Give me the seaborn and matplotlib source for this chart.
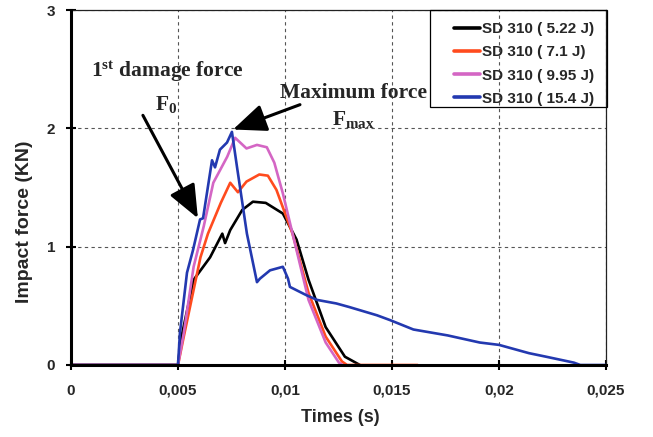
import matplotlib
matplotlib.use("Agg")
import matplotlib.pyplot as plt
from matplotlib.patches import Rectangle
import seaborn as sns
import pandas as pd

# ---- data (time in s, force in kN) ----
labels = ["SD 310 ( 5.22 J)", "SD 310 ( 7.1 J)", "SD 310 ( 9.95 J)", "SD 310 ( 15.4 J)"]
colors = ["#000000", "#ff4b1e", "#d466c4", "#2339b0"]

t_522 = [0, 0.0050, 0.00513, 0.00573, 0.0065, 0.00707, 0.0072, 0.00744, 0.0080, 0.0085,
         0.0091, 0.0099, 0.01054, 0.0111, 0.0119, 0.0128, 0.0133, 0.0135]
f_522 = [0, 0, 0.21, 0.72, 0.91, 1.11, 1.03, 1.14, 1.31, 1.38,
         1.37, 1.28, 1.06, 0.72, 0.32, 0.07, 0.02, 0]

t_71 = [0, 0.0050, 0.00527, 0.00605, 0.0064, 0.0070, 0.00744, 0.0078, 0.0082, 0.0088,
        0.0092, 0.0096, 0.01035, 0.0111, 0.0119, 0.01266, 0.0129, 0.0162]
f_71 = [0, 0, 0.24, 0.91, 1.11, 1.37, 1.54, 1.46, 1.55, 1.61,
        1.60, 1.48, 1.11, 0.61, 0.24, 0.03, 0, 0]

t_995 = [0, 0.0050, 0.00527, 0.00573, 0.0062, 0.00665, 0.0073, 0.00767, 0.0082, 0.00869,
         0.00915, 0.0095, 0.0099, 0.01054, 0.0111, 0.0119, 0.01252, 0.0127]
f_995 = [0, 0, 0.27, 0.83, 1.17, 1.54, 1.76, 1.92, 1.83, 1.86,
         1.84, 1.71, 1.45, 0.97, 0.55, 0.19, 0.02, 0]

t_154 = [0, 0.0050, 0.00509, 0.00542, 0.0057, 0.00603, 0.00617, 0.00659, 0.00673, 0.00696,
         0.00729, 0.00752, 0.00776, 0.00799, 0.00822, 0.00869, 0.00883, 0.0093, 0.0099,
         0.01014, 0.01023, 0.0110, 0.0115, 0.0124, 0.0130, 0.0143, 0.0149, 0.0160,
         0.0176, 0.0191, 0.0200, 0.0214, 0.0222, 0.0235, 0.0238, 0.0250]
f_154 = [0, 0, 0.27, 0.78, 0.97, 1.23, 1.24, 1.73, 1.67, 1.82,
         1.88, 1.97, 1.67, 1.39, 1.11, 0.70, 0.73, 0.80, 0.83,
         0.73, 0.66, 0.59, 0.55, 0.52, 0.49, 0.42, 0.38, 0.30,
         0.25, 0.19, 0.17, 0.10, 0.07, 0.02, 0, 0]

series_t = [t_522, t_71, t_995, t_154]
series_f = [f_522, f_71, f_995, f_154]

xticks = [0, 0.005, 0.01, 0.015, 0.02, 0.025]
xticklabels = ["0", "0,005", "0,01", "0,015", "0,02", "0,025"]
yticks = [0, 1, 2, 3]

rows = []
for lab, ts, fs in zip(labels, series_t, series_f):
    for t, f in zip(ts, fs):
        rows.append({"t": t, "f": f, "series": lab})
df = pd.DataFrame(rows)

sns.set_theme(style="white")
plt.rcParams["font.family"] = ["Liberation Sans", "DejaVu Sans"]
plt.rcParams["mathtext.fontset"] = "custom"
plt.rcParams["mathtext.rm"] = "Liberation Serif:bold"
plt.rcParams["mathtext.it"] = "Liberation Serif:bold:italic"
plt.rcParams["mathtext.bf"] = "Liberation Serif:bold"

fig = plt.figure(figsize=(6.53, 4.37), dpi=100)
ax = fig.add_axes([71 / 653, 1 - 365 / 437, (606 - 71) / 653, (365 - 10) / 437])

sns.lineplot(data=df, x="t", y="f", hue="series", hue_order=labels,
             palette=dict(zip(labels, colors)), sort=False, estimator=None,
             units="series", linewidth=1.9, ax=ax, legend=False, zorder=3)

ax.set_xlim(0, 0.025)
ax.set_ylim(0, 3)
ax.set_xticks(xticks)
ax.set_xticklabels(xticklabels)
ax.set_yticks(yticks)
ax.set_yticklabels([str(v) for v in yticks])

for lbl in ax.get_xticklabels() + ax.get_yticklabels():
    lbl.set_fontweight("bold")
    lbl.set_fontsize(11)
ax.tick_params(axis="both", direction="inout", length=7, width=1.5, color="black",
               bottom=True, left=True)
ax.tick_params(axis="x", pad=10)
ax.tick_params(axis="y", pad=8)

ax.grid(True, linestyle=(0, (3, 3)), color="#555555", linewidth=0.8)
ax.set_axisbelow(True)

for side in ["left", "bottom"]:
    ax.spines[side].set_linewidth(2.2)
    ax.spines[side].set_color("black")
    ax.spines[side].set_zorder(5)
for side in ["top", "right"]:
    ax.spines[side].set_linewidth(0.9)
    ax.spines[side].set_color("#222222")

ax.set_xlabel("Times (s)", fontsize=13, fontweight="bold")
ax.set_ylabel("Impact force (KN)", fontsize=14, fontweight="bold")
ax.xaxis.set_label_coords((340 - 71) / 535, -(409 - 365) / 355)
ax.yaxis.set_label_coords(-(71 - 33) / 535, (365 - 222) / 355)

handles = [plt.Line2D([], [], color=c, lw=2.6) for c in colors]
leg = ax.legend(handles, labels, loc="upper right", bbox_to_anchor=(1.0, 1.0),
                borderaxespad=0.0, frameon=False, handlelength=1.7,
                handletextpad=0.1, labelspacing=0.6, borderpad=0.8,
                prop={"weight": "bold", "size": 11})
ax.add_patch(Rectangle(((430 - 71) / 535, (365 - 107) / 355), (607 - 430) / 535,
                       (107 - 10) / 355, transform=ax.transAxes, fill=False,
                       edgecolor="black", linewidth=0.9, zorder=6, clip_on=False))

# annotations
tfs = 15.5
ax.text(0.00449, 2.434, r"1$^{\mathrm{st}}$" + " damage force", ha="center", va="baseline",
        fontsize=tfs, fontweight="bold", family="Liberation Serif")
ax.text(0.00444, 2.155, r"F$_{\mathrm{0}}$", ha="center", va="baseline",
        fontsize=tfs, fontweight="bold", family="Liberation Serif")
ax.text(0.01318, 2.257, "Maximum force", ha="center", va="baseline",
        fontsize=tfs, fontweight="bold", family="Liberation Serif")
ax.text(0.01318, 2.029, r"F$_{\mathrm{max}}$", ha="center", va="baseline",
        fontsize=tfs, fontweight="bold", family="Liberation Serif")

arrow_kw = dict(arrowstyle="-|>,head_length=1.2,head_width=0.5", color="black",
                lw=2.2, mutation_scale=17, shrinkA=0, shrinkB=0)
ax.annotate("", xy=(0.00593, 1.24), xytext=(0.00336, 2.11), arrowprops=arrow_kw, zorder=6)
ax.annotate("", xy=(0.00757, 1.99), xytext=(0.0107, 2.20), arrowprops=arrow_kw, zorder=6)

fig.savefig("out.png", dpi=100)
